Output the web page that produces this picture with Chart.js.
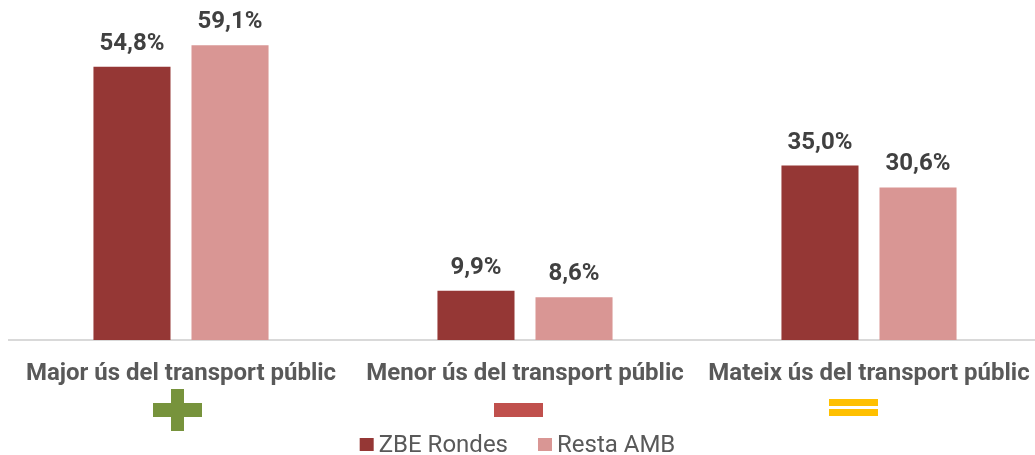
<!DOCTYPE html>
<html>
<head>
<meta charset="utf-8">
<script src="https://cdn.jsdelivr.net/npm/chart.js@4"></script>
<style>
  html, body { margin: 0; padding: 0; background: #fff; overflow: hidden; }
  #wrap { width: 1035px; height: 455px; overflow: hidden; position: relative; }
  #wrap canvas { position: absolute; left: 0; top: 0; }
</style>
</head>
<body>
<div id="wrap"><canvas id="chart" width="1050" height="455" style="width:1050px;height:455px"></canvas></div>
<script>
// dades
const categories = ["Major ús del transport públic", "Menor ús del transport públic", "Mateix ús del transport públic"];
const seriesNames = ["ZBE Rondes", "Resta AMB"];
const zbeValues = [54.8, 9.9, 35.0];
const restaValues = [59.1, 8.6, 30.6];
const icons = ["plus", "minus", "equal"];

const colZbe = "#953735";
const colResta = "#D99694";
const iconColors = { plus: "#77933C", minus: "#C0504D", equal: "#FFC000" };

function fmt(v) {
  return v.toFixed(1).replace(".", ",") + "%";
}

// etiquetes de valor sobre les barres
const valueLabels = {
  id: "valueLabels",
  afterDatasetsDraw(chart) {
    const ctx = chart.ctx;
    ctx.save();
    ctx.font = "bold 24px Roboto";
    ctx.fillStyle = "#404040";
    ctx.textAlign = "center";
    ctx.textBaseline = "alphabetic";
    chart.data.datasets.forEach((ds, di) => {
      chart.getDatasetMeta(di).data.forEach((bar, i) => {
        ctx.fillText(fmt(ds.data[i]), bar.x, bar.y - 17);
      });
    });
    ctx.restore();
  }
};

// icones + / - / = i llegenda
const extras = {
  id: "extras",
  afterDraw(chart) {
    const ctx = chart.ctx;
    const xs = chart.scales.x;
    const offs = [-3.5, -6.5, -15.5];
    ctx.save();
    icons.forEach((type, i) => {
      const cx = xs.getPixelForValue(i) + offs[i];
      const cy = 410;
      ctx.fillStyle = iconColors[type];
      if (type === "plus") {
        ctx.fillRect(cx - 24.5, cy - 7, 49, 14);
        ctx.fillRect(cx - 6.5, cy - 21, 13, 42);
      } else if (type === "minus") {
        ctx.fillRect(cx - 24.5, cy - 7, 49, 14);
      } else {
        ctx.fillRect(cx - 24.5, cy - 11, 49, 7);
        ctx.fillRect(cx - 24.5, cy - 1, 49, 7);
      }
    });

    // llegenda
    ctx.font = "24px Roboto";
    ctx.textBaseline = "alphabetic";
    ctx.textAlign = "left";
    const cols = [colZbe, colResta];
    const w0 = ctx.measureText(seriesNames[0]).width;
    const w1 = ctx.measureText(seriesNames[1]).width;
    const total = 14 + 5 + w0 + 30 + 14 + 5 + w1;
    let x = 1035 / 2 - total / 2;
    seriesNames.forEach((name, i) => {
      ctx.fillStyle = cols[i];
      ctx.fillRect(x, 438, 14, 13);
      ctx.fillStyle = "#595959";
      ctx.fillText(name, x + 19, 452);
      x += 19 + (i === 0 ? w0 : w1) + 30;
    });
    ctx.restore();
  }
};

new Chart(document.getElementById("chart"), {
  type: "bar",
  data: {
    labels: categories,
    datasets: [
      { label: seriesNames[0], data: zbeValues, backgroundColor: colZbe },
      { label: seriesNames[1], data: restaValues, backgroundColor: colResta }
    ]
  },
  options: {
    responsive: false,
    animation: false,
    devicePixelRatio: 1,
    layout: { padding: { left: 9, right: 9, top: 1, bottom: 0 } },
    datasets: { bar: { categoryPercentage: 0.57, barPercentage: 0.786 } },
    plugins: { legend: { display: false }, tooltip: { enabled: false } },
    scales: {
      x: {
        grid: { display: false },
        border: { display: true, color: "#d9d9d9", width: 2 },
        ticks: { color: "#595959", font: { family: "Roboto", size: 24, weight: "bold" }, padding: 12, maxRotation: 0, autoSkip: false },
        afterFit(scale) { scale.height = 115; }
      },
      y: { display: false, min: 0, max: 68 }
    }
  },
  plugins: [valueLabels, extras]
});
</script>
</body>
</html>
